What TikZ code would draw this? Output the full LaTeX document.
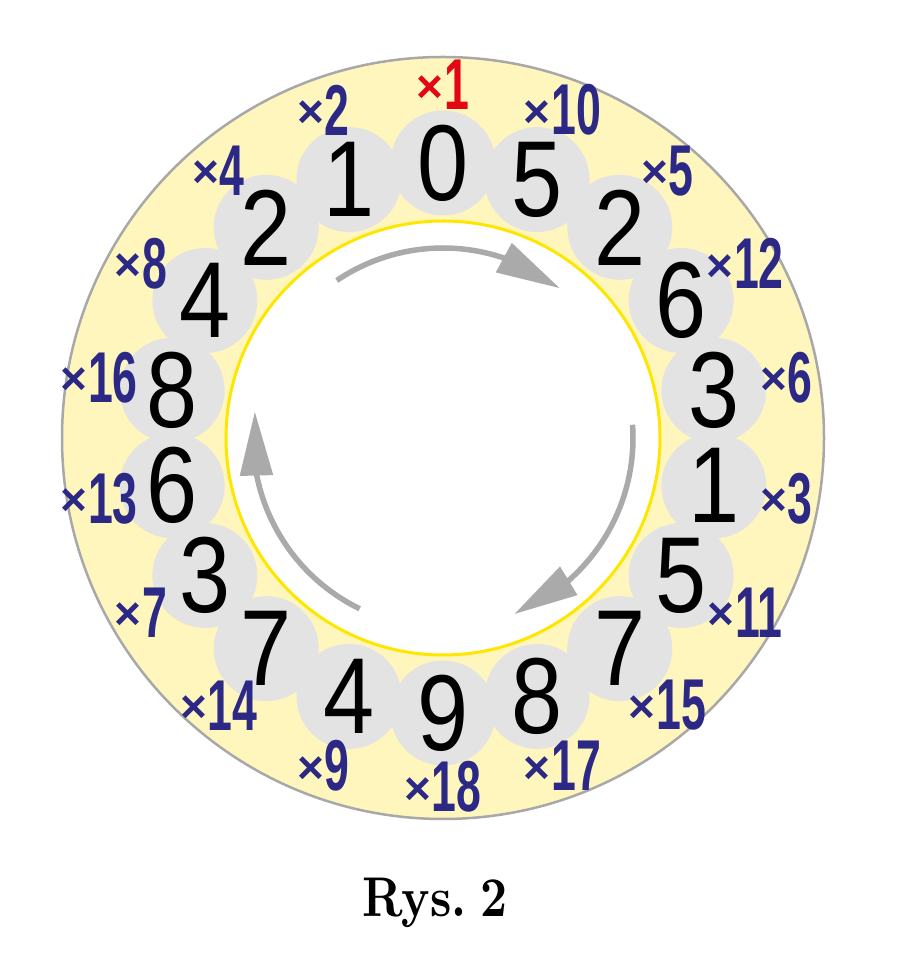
\documentclass[tikz,border=0pt]{standalone}
\usepackage{fontspec}
\newfontfamily\digitfont{Liberation Sans}
\newfontfamily\capfont{lmroman10-bold.otf}
\usetikzlibrary{arrows.meta,bending,calc}
\definecolor{ringyellow}{RGB}{255,246,190}
\definecolor{cloudgray}{RGB}{227,227,227}
\definecolor{rimgray}{RGB}{168,168,168}
\definecolor{inneryellow}{RGB}{255,230,0}
\definecolor{labelblue}{RGB}{44,40,133}
\definecolor{labelred}{RGB}{227,6,19}
\definecolor{arrowgray}{RGB}{170,170,170}
\newcommand{\multlab}[1]{{\fontsize{46}{46}\selectfont\raisebox{7.5pt}{×}}\kern0.5pt\scalebox{0.62}[1]{\fontsize{72}{72}\selectfont #1}}
\tikzset{
  ringdigit/.style={inner sep=0pt, font=\digitfont\fontsize{108}{108}\selectfont, text=black, xscale=0.85},
  multnode/.style={inner sep=0pt, font=\digitfont\bfseries, text=labelblue},
  cyclearrow/.style={draw=arrowgray, line width=5.5pt, -{Triangle[length=64pt,width=32pt]}},
  cloudcircle/.style={fill=cloudgray, draw=none}
}
\begin{document}
\begin{tikzpicture}[x=1pt,y=1pt]
\useasboundingbox (0,0) rectangle (900,966);
\coordinate (C) at (443,528);
% outer ring
\fill[ringyellow, draw=rimgray, line width=2.5pt] (C) circle[radius=381];
% gray cloud
\foreach \k in {0,...,17}{
  \fill[cloudgray] ($(C)+({90-20*\k}:275)$) circle[radius=52.5];
}
% inner circle
\fill[white, draw=inneryellow, line width=3pt] (C) circle[radius=217];
% digits
\foreach \d [count=\i from 0] in {0,5,2,6,3,1,5,7,8,9,4,7,3,6,8,4,2,1}{
  \node[ringdigit] (d\i) at ($(C)+({90-20*\i}:275)$) {\d};
}
% multiplier labels
\foreach \m [count=\i from 0] in {1,10,5,12,6,3,11,15,17,18,9,14,7,13,16,8,4,2}{
  \ifnum\i=0
    \node[multnode, text=labelred] (m\i) at ($(C)+({90-20*\i}:353)$) {\multlab{\m}};
  \else
    \node[multnode] (m\i) at ($(C)+({90-20*\i}:349)$) {\multlab{\m}};
  \fi
}
% arrows
\foreach \s in {0,1,2}{
  \draw[cyclearrow] ($(C)+({124-120*\s}:190)$) arc[start angle={124-120*\s}, end angle={52-120*\s}, radius=190];
}
% caption
\node[anchor=base, inner sep=0pt, font=\capfont\fontsize{56}{56}\selectfont] (cap) at (435,49) {\scalebox{0.84}[1]{Rys.\kern0.3em2}};
\end{tikzpicture}
\end{document}
